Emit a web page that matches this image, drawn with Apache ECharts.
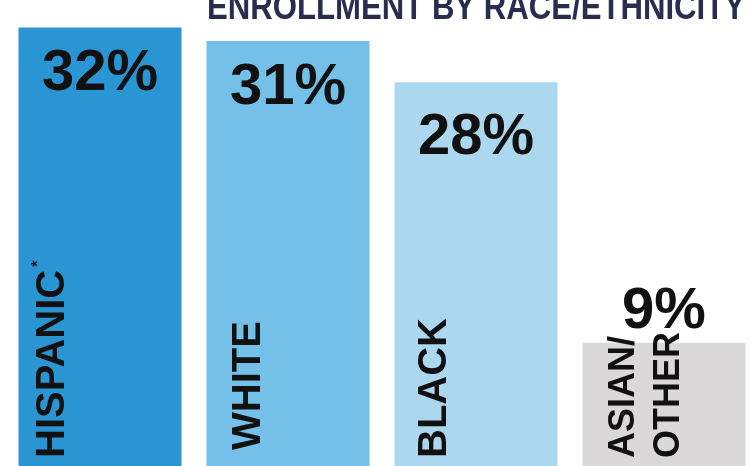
<!DOCTYPE html>
<html>
<head>
<meta charset="utf-8">
<script src="https://cdn.jsdelivr.net/npm/echarts@6/dist/echarts.min.js"></script>
<style>
  html, body { margin: 0; padding: 0; background: #ffffff; }
  #chart { width: 751px; height: 466px; }
</style>
</head>
<body>
<div id="chart"></div>
<script>
const titleText = 'ENROLLMENT BY RACE/ETHNICITY';
const categories = ['HISPANIC', 'WHITE', 'BLACK', 'ASIAN/\nOTHER'];
const shares = [32, 31, 28, 9];
const barColors = ['#2a95d3', '#74c0e8', '#acd8ef', '#dbd8d9'];

const FONT = "'Liberation Sans', Arial, sans-serif";
const chart = echarts.init(document.getElementById('chart'), null, { renderer: 'canvas' });

const pctLabelBase = {
  show: true,
  color: '#111111',
  fontFamily: FONT,
  fontWeight: 'bold',
  fontSize: 58,
  formatter: p => p.value + '%'
};

const mainData = shares.map((v, i) => ({
  value: v,
  itemStyle: { color: barColors[i] },
  label: i < 3
    ? Object.assign({}, pctLabelBase, { position: 'insideTop', distance: i === 2 ? 27 : 18 })
    : Object.assign({}, pctLabelBase, { position: 'top', distance: 2 })
}));

const nameOffsets = [34, 42, 40, 64];
const namePads = [8, 16, 8, 8];
const nameData = shares.map((v, i) => ({
  value: v,
  name: categories[i],
  label: {
    show: true,
    position: [nameOffsets[i], '100%'],
    rotate: 90,
    align: 'left',
    verticalAlign: 'middle',
    padding: [0, 0, 0, namePads[i]],
    color: '#111111',
    fontFamily: FONT,
    fontWeight: 'bold',
    fontSize: i === 3 ? 36 : 40,
    lineHeight: i === 3 ? 45 : 40,
    formatter: i === 0 ? '{a|' + categories[0] + '}{s|*}' : categories[i],
    rich: i === 0 ? {
      a: { fontSize: 40, fontWeight: 'bold', color: '#111111', fontFamily: FONT },
      s: { fontSize: 16, fontWeight: 'bold', color: '#111111', verticalAlign: 'top', lineHeight: 44, padding: [0, 0, 0, 3], fontFamily: FONT }
    } : undefined
  }
}));

chart.setOption({
  animation: false,
  backgroundColor: '#ffffff',
  graphic: [{
    type: 'text',
    left: 207,
    top: -9,
    z: 10,
    scaleX: 0.865,
    style: {
      text: titleText,
      fontFamily: FONT,
      fontWeight: 'bold',
      fontSize: 36,
      fill: '#2b2d50'
    }
  }],
  grid: { left: 100, right: 87, top: 0, bottom: -2, containLabel: false },
  xAxis: {
    type: 'category',
    data: categories,
    boundaryGap: false,
    axisLine: { show: false },
    axisTick: { show: false },
    axisLabel: { show: false },
    splitLine: { show: false }
  },
  yAxis: {
    type: 'value',
    min: 0,
    max: 34,
    show: false,
    splitLine: { show: false }
  },
  series: [
    {
      type: 'bar',
      data: mainData,
      barWidth: 163,
      barGap: '-100%',
      clip: false,
      z: 2
    },
    {
      type: 'bar',
      data: nameData,
      barWidth: 163,
      barGap: '-100%',
      clip: false,
      itemStyle: { color: 'rgba(0,0,0,0)' },
      z: 3
    }
  ]
});
</script>
</body>
</html>
